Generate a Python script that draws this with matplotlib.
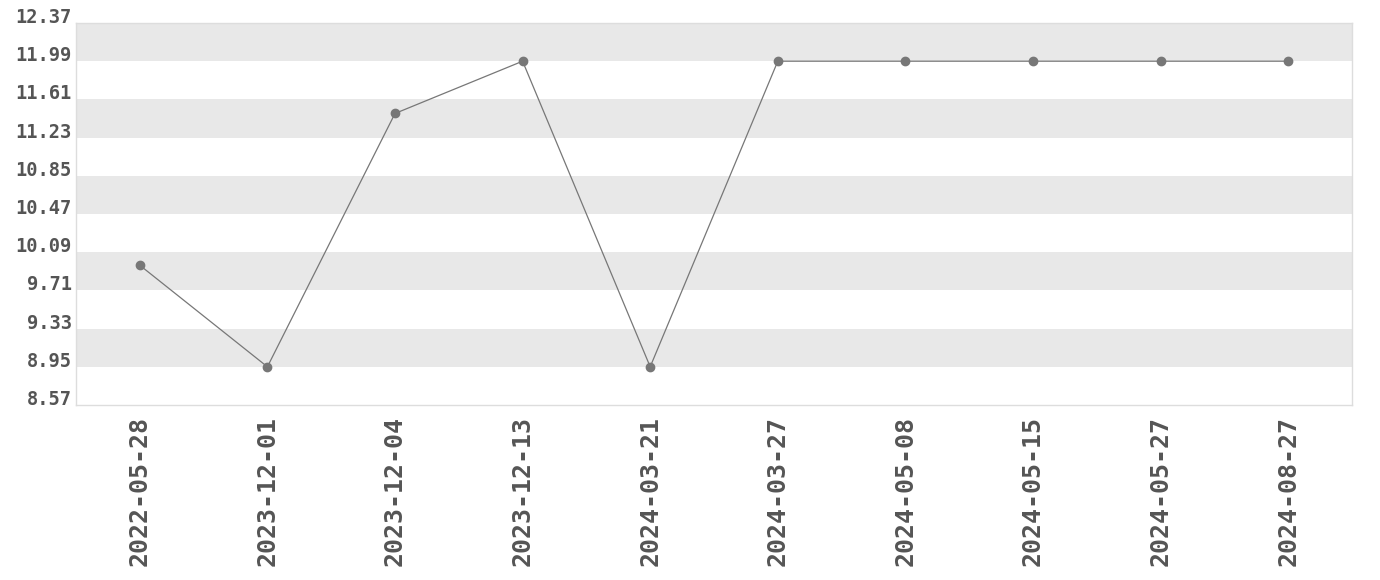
import matplotlib
matplotlib.use("Agg")
import matplotlib.pyplot as plt

dates = ["2022-05-28", "2023-12-01", "2023-12-04", "2023-12-13", "2024-03-21",
         "2024-03-27", "2024-05-08", "2024-05-15", "2024-05-27", "2024-08-27"]
values = [9.96, 8.95, 11.47, 11.99, 8.95, 11.99, 11.99, 11.99, 11.99, 11.99]
yticks = [8.57, 8.95, 9.33, 9.71, 10.09, 10.47, 10.85, 11.23, 11.61, 11.99, 12.37]

fig = plt.figure(figsize=(13.8, 5.8), dpi=100)
ax = fig.add_axes([76/1380, 1-405/580, (1352-76)/1380, (405-23)/580])

ymin, ymax = yticks[0], yticks[-1]
# alternating bands
for i in range(len(yticks)-1):
    if (len(yticks)-2-i) % 2 == 0:
        ax.axhspan(yticks[i], yticks[i+1], color="#e8e8e8", lw=0, zorder=0)

x = list(range(len(dates)))
ax.plot(x, values, color="#777777", lw=0.9, marker="o", ms=6, mfc="#777777", mec="#777777", zorder=3)

ax.set_xlim(-0.5, len(dates)-0.5)
ax.set_ylim(ymin, ymax)
ax.set_yticks(yticks)
ax.set_yticklabels([f"{v:.2f}" for v in yticks])
ax.set_xticks(x)
ax.set_xticklabels(dates, rotation=90)

for lbl in ax.get_yticklabels():
    lbl.set_fontfamily("DejaVu Sans Mono")
    lbl.set_fontweight("bold")
    lbl.set_fontsize(13.5)
    lbl.set_color("#555555")
    lbl.set_verticalalignment("baseline")
for lbl in ax.get_xticklabels():
    lbl.set_fontfamily("DejaVu Sans Mono")
    lbl.set_fontweight("bold")
    lbl.set_fontsize(18)
    lbl.set_color("#555555")

ax.tick_params(axis="both", length=0)
ax.tick_params(axis="y", pad=3)
ax.tick_params(axis="x", pad=8)
for s in ax.spines.values():
    s.set_color("#dddddd")
    s.set_linewidth(1)

fig.savefig("out.png", dpi=100)
